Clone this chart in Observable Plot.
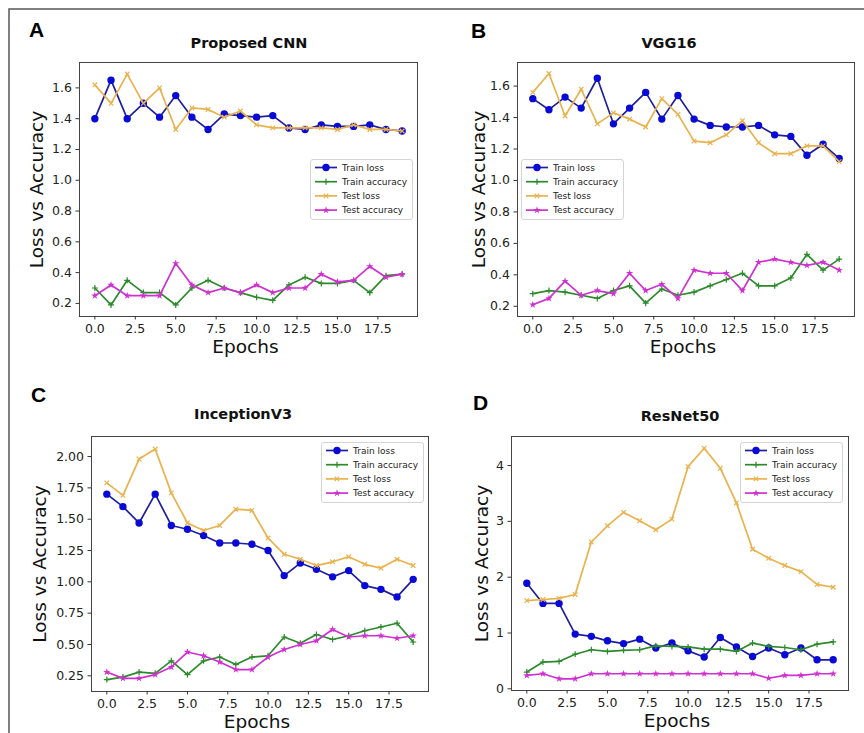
<!DOCTYPE html>
<html>
<head>
<meta charset="utf-8">
<script src="https://cdn.jsdelivr.net/npm/d3@7"></script>
<script src="https://cdn.jsdelivr.net/npm/@observablehq/plot@0.6"></script>
<style>
  body { margin: 0; background: #fff; }
  #fig { position: relative; width: 864px; height: 733px; overflow: hidden; background: #fff; font-family: "DejaVu Sans", sans-serif; }
  .panel { position: absolute; }
  #overlay { position: absolute; left: 0; top: 0; pointer-events: none; }
</style>
</head>
<body>
<div id="fig"></div>
<script>
// ---------------- data ----------------
const epochs = [0,1,2,3,4,5,6,7,8,9,10,11,12,13,14,15,16,17,18,19];
const seriesNames = ["Train loss", "Train accuracy", "Test loss", "Test accuracy"];
const panelTitles = ["Proposed CNN", "VGG16", "InceptionV3", "ResNet50"];
const panelLetters = ["A", "B", "C", "D"];
const xAxisLabel = "Epochs";
const yAxisLabel = "Loss vs Accuracy";
const xTicks = [0, 2.5, 5, 7.5, 10, 12.5, 15, 17.5];
const yTicksSmall = [0.2, 0.4, 0.6, 0.8, 1.0, 1.2, 1.4, 1.6];
const yTicksInception = [0.25, 0.5, 0.75, 1.0, 1.25, 1.5, 1.75, 2.0];
const yTicksResNet = [0, 1, 2, 3, 4];

// Proposed CNN
const cnnTrainLoss = [1.40,1.65,1.40,1.50,1.41,1.55,1.41,1.33,1.43,1.42,1.41,1.42,1.34,1.33,1.36,1.35,1.35,1.36,1.33,1.32];
const cnnTrainAcc  = [0.30,0.19,0.35,0.27,0.27,0.19,0.30,0.35,0.30,0.27,0.24,0.22,0.32,0.37,0.33,0.33,0.35,0.27,0.38,0.39];
const cnnTestLoss  = [1.62,1.50,1.69,1.50,1.60,1.33,1.47,1.46,1.41,1.45,1.36,1.34,1.34,1.34,1.34,1.33,1.36,1.33,1.33,1.32];
const cnnTestAcc   = [0.25,0.32,0.25,0.25,0.25,0.46,0.32,0.27,0.30,0.27,0.32,0.27,0.30,0.30,0.39,0.34,0.35,0.44,0.37,0.39];

// VGG16
const vggTrainLoss = [1.52,1.45,1.53,1.46,1.65,1.36,1.46,1.56,1.39,1.54,1.39,1.35,1.34,1.34,1.35,1.29,1.28,1.16,1.23,1.14];
const vggTrainAcc  = [0.28,0.30,0.29,0.27,0.25,0.30,0.33,0.22,0.31,0.27,0.29,0.33,0.37,0.41,0.33,0.33,0.38,0.53,0.43,0.50];
const vggTestLoss  = [1.56,1.68,1.41,1.58,1.36,1.43,1.39,1.34,1.52,1.42,1.25,1.24,1.29,1.38,1.24,1.17,1.17,1.22,1.22,1.12];
const vggTestAcc   = [0.21,0.25,0.36,0.27,0.30,0.28,0.41,0.30,0.34,0.25,0.43,0.41,0.41,0.30,0.48,0.50,0.48,0.46,0.48,0.43];

// InceptionV3
const incTrainLoss = [1.70,1.60,1.47,1.70,1.45,1.42,1.37,1.31,1.31,1.30,1.25,1.05,1.15,1.10,1.04,1.09,0.97,0.94,0.88,1.02];
const incTrainAcc  = [0.22,0.24,0.28,0.27,0.37,0.26,0.37,0.40,0.34,0.40,0.41,0.56,0.51,0.58,0.54,0.57,0.61,0.64,0.67,0.52];
const incTestLoss  = [1.79,1.69,1.98,2.06,1.71,1.47,1.41,1.45,1.58,1.57,1.35,1.22,1.18,1.13,1.16,1.20,1.14,1.11,1.18,1.13];
const incTestAcc   = [0.28,0.23,0.23,0.26,0.32,0.44,0.41,0.36,0.30,0.30,0.40,0.46,0.50,0.53,0.62,0.56,0.57,0.57,0.55,0.57];

// ResNet50
const resTrainLoss = [1.89,1.53,1.53,0.98,0.94,0.86,0.81,0.89,0.73,0.82,0.68,0.57,0.92,0.75,0.58,0.73,0.61,0.73,0.52,0.52];
const resTrainAcc  = [0.30,0.48,0.49,0.62,0.70,0.67,0.69,0.70,0.77,0.76,0.75,0.71,0.71,0.67,0.82,0.76,0.74,0.70,0.80,0.84];
const resTestLoss  = [1.58,1.60,1.62,1.69,2.63,2.92,3.16,3.01,2.85,3.04,3.98,4.31,3.95,3.33,2.50,2.34,2.21,2.10,1.87,1.82];
const resTestAcc   = [0.24,0.27,0.18,0.18,0.27,0.27,0.27,0.27,0.27,0.27,0.27,0.27,0.27,0.27,0.27,0.19,0.24,0.24,0.27,0.27];

// ---------------- styles ----------------
const seriesStyle = [
  { line: "#1f1f9e", mark: "#0a0ad6", symbol: "circle", r: 3.7, filled: true },
  { line: "#2c8a2c", mark: "#2c8a2c", symbol: "plus",   r: 2.1, filled: false },
  { line: "#e9b24c", mark: "#e9b24c", symbol: "times",  r: 2.2, filled: false },
  { line: "#d030d0", mark: "#d030d0", symbol: "star",   r: 2.3, filled: true }
];

const panels = [
  { series: [cnnTrainLoss, cnnTrainAcc, cnnTestLoss, cnnTestAcc],
    left: 0, top: 0, width: 432, height: 370,
    margin: { top: 62, right: 15, bottom: 54, left: 79 },
    yDomain: [0.115, 1.765], yTicks: yTicksSmall, fmt: d3.format(".1f"), yLabelDx: -42,
    title: { x: 249, y: 47.5 }, letter: { x: 29, y: 37 }, legend: { x: 310, y: 159 } },
  { series: [vggTrainLoss, vggTrainAcc, vggTestLoss, vggTestAcc],
    left: 432, top: 0, width: 432, height: 370,
    margin: { top: 62, right: 10, bottom: 54, left: 85 },
    yDomain: [0.135, 1.75], yTicks: yTicksSmall, fmt: d3.format(".1f"), yLabelDx: -38,
    title: { x: 669, y: 47.5 }, letter: { x: 471, y: 37.5 }, legend: { x: 521, y: 159 } },
  { series: [incTrainLoss, incTrainAcc, incTestLoss, incTestAcc],
    left: 0, top: 370, width: 432, height: 363,
    margin: { top: 66, right: 4, bottom: 42, left: 91 },
    yDomain: [0.125, 2.16], yTicks: yTicksInception, fmt: d3.format(".2f"), yLabelDx: -51,
    title: { x: 243, y: 418.5 }, letter: { x: 31, y: 401.5 }, legend: { x: 321, y: 442 } },
  { series: [resTrainLoss, resTrainAcc, resTestLoss, resTestAcc],
    left: 432, top: 370, width: 432, height: 363,
    margin: { top: 66, right: 16, bottom: 43, left: 79 },
    yDomain: [-0.03, 4.52], yTicks: yTicksResNet, fmt: d3.format("d"), yLabelDx: -29,
    title: { x: 680, y: 420.5 }, letter: { x: 473, y: 409.5 }, legend: { x: 740, y: 442 } }
];

const fig = document.getElementById("fig");

panels.forEach((p, pi) => {
  const marks = [];
  p.series.forEach((vals, si) => {
    const data = epochs.map((e, i) => ({ epoch: e, value: vals[i] }));
    const st = seriesStyle[si];
    marks.push(Plot.line(data, { x: "epoch", y: "value", stroke: st.line, strokeWidth: 1.7 }));
    marks.push(Plot.dot(data, {
      x: "epoch", y: "value", symbol: () => st.symbol, r: st.r,
      fill: st.filled ? st.mark : "none",
      stroke: st.filled ? "none" : st.mark,
      strokeWidth: st.filled ? 0 : 1.2
    }));
  });
  marks.push(Plot.frame({ stroke: "#444", strokeWidth: 1 }));
  marks.push(Plot.axisX({ ticks: xTicks, tickFormat: d => d.toFixed(1), tickSize: 3.5, tickPadding: 4, fontSize: 12.5, label: null, stroke: "#333" }));
  marks.push(Plot.axisY({ ticks: p.yTicks, tickFormat: p.fmt, tickSize: 3.5, tickPadding: 4, fontSize: 12.5, label: null, stroke: "#333" }));
  marks.push(Plot.text([xAxisLabel], { frameAnchor: "bottom", text: d => d, dy: 31, dx: -3, lineAnchor: "middle", textAnchor: "middle", fontSize: 18.5, fill: "#111" }));
  marks.push(Plot.text([yAxisLabel], { frameAnchor: "left", text: d => d, rotate: -90, dx: p.yLabelDx, lineAnchor: "middle", textAnchor: "middle", fontSize: 18.5, fill: "#111" }));

  const chart = Plot.plot({
    width: p.width, height: p.height,
    marginTop: p.margin.top, marginRight: p.margin.right, marginBottom: p.margin.bottom, marginLeft: p.margin.left,
    style: { fontFamily: "DejaVu Sans", color: "#222", background: "transparent", overflow: "visible" },
    x: { domain: [-0.95, 19.95], label: null },
    y: { domain: p.yDomain, label: null },
    marks
  });
  const wrap = document.createElement("div");
  wrap.className = "panel";
  wrap.style.left = p.left + "px";
  wrap.style.top = p.top + "px";
  wrap.appendChild(chart);
  fig.appendChild(wrap);
});

// ---------------- overlay: border, titles, letters, legends ----------------
const svg = d3.create("svg").attr("id", "overlay").attr("width", 864).attr("height", 733);
svg.append("path").attr("d", "M9,740 L9,9 L870,9").attr("fill", "none").attr("stroke", "#555").attr("stroke-width", 1.5);

panels.forEach((p, pi) => {
  svg.append("text").attr("x", p.title.x).attr("y", p.title.y).attr("text-anchor", "middle")
    .attr("font-family", "DejaVu Sans").attr("font-weight", "bold").attr("font-size", 14.5).attr("fill", "#111")
    .text(panelTitles[pi]);
  svg.append("text").attr("x", p.letter.x).attr("y", p.letter.y)
    .attr("font-family", "Liberation Sans").attr("font-weight", "bold").attr("font-size", 21).attr("fill", "#000")
    .text(panelLetters[pi]);

  const g = svg.append("g").attr("transform", `translate(${p.legend.x},${p.legend.y})`);
  g.append("rect").attr("x", 0.5).attr("y", 0.5).attr("width", 102).attr("height", 60).attr("rx", 2.5)
    .attr("fill", "#fff").attr("fill-opacity", 0.85).attr("stroke", "#d4d4d4").attr("stroke-width", 1);
  const symMap = { circle: d3.symbolCircle, plus: d3.symbolPlus, times: d3.symbolTimes, star: d3.symbolStar };
  seriesNames.forEach((name, si) => {
    const st = seriesStyle[si];
    const cy = 8.5 + si * 14.2;
    g.append("line").attr("x1", 5).attr("x2", 27).attr("y1", cy).attr("y2", cy)
      .attr("stroke", st.line).attr("stroke-width", 1.7);
    g.append("path").attr("transform", `translate(16,${cy})`)
      .attr("d", d3.symbol(symMap[st.symbol], Math.PI * st.r * st.r)())
      .attr("fill", st.filled ? st.mark : "none").attr("stroke", st.filled ? "none" : st.mark).attr("stroke-width", 1.2);
    g.append("text").attr("x", 32).attr("y", cy + 3.2)
      .attr("font-family", "DejaVu Sans").attr("font-size", 9).attr("fill", "#222").text(name);
  });
});
fig.appendChild(svg.node());
</script>
</body>
</html>
